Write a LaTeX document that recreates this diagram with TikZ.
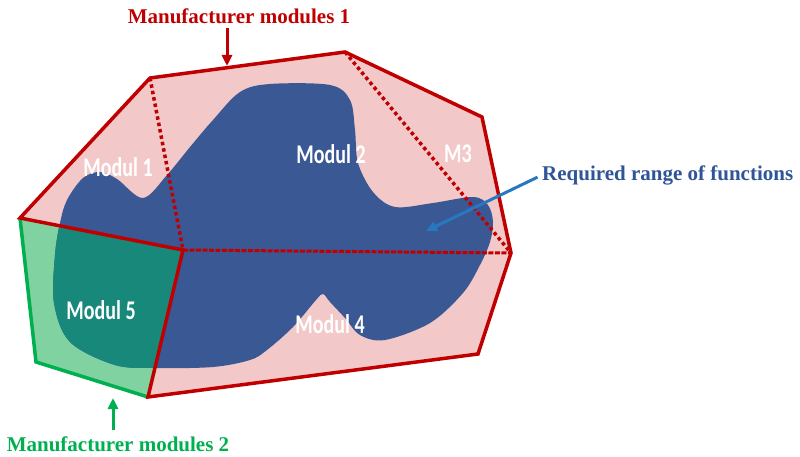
\documentclass[tikz,border=0pt]{standalone}
\usepackage{fontspec}
\setmainfont{Liberation Serif}
\newfontfamily\modfont[FakeStretch=0.74]{Carlito}
\usetikzlibrary{arrows.meta,arrows}
\usetikzlibrary{positioning}
\definecolor{mred}{HTML}{C00000}
\definecolor{mgreen}{HTML}{00B050}
\definecolor{mblue}{HTML}{2F5597}
\definecolor{rangeblue}{HTML}{3A5894}
\definecolor{arrowblue}{HTML}{2878C0}
\definecolor{pinkfill}{HTML}{F2C8C8}
\definecolor{greenfill}{HTML}{80D2A0}
\definecolor{tealfill}{HTML}{17887A}
\tikzset{
  title/.style={font=\bfseries\fontsize{21}{23}\selectfont, inner sep=0pt},
  modul/.style={text=white, font=\modfont\bfseries\fontsize{27}{29}\selectfont, inner sep=0pt},
  border/.style={draw=mred, line width=3.5pt, line join=miter},
  greenborder/.style={draw=mgreen, line width=3.5pt, line join=miter},
  dotline/.style={draw=mred, line width=3.5pt, dash pattern=on 3.5pt off 3pt},
  dashline/.style={draw=mred, line width=3pt, dash pattern=on 5pt off 1.5pt},
  arrow/.style={draw, -{Triangle[length=11pt, width=10pt]}, line width=3pt}
  }

\begin{document}
\begin{tikzpicture}[x=1pt, y=-1pt]
	% Frame
	\useasboundingbox (0,0) rectangle (800,457);

	% Corners
	\coordinate (h) at (20,218);
	\coordinate (a) at (150,78);
	\coordinate (b) at (345,52);
	\coordinate (c) at (482,117);
	\coordinate (d) at (511,253);
	\coordinate (e) at (478,354);
	\coordinate (f) at (148,397);
	\coordinate (g) at (36,362);
	\coordinate (i) at (183,250);

	% Areas
	\fill[pinkfill] (h) -- (a) -- (b) -- (c) -- (d) -- (e) -- (f) -- (i) -- cycle;
	\fill[greenfill] (h) -- (i) -- (f) -- (g) -- cycle;
	\def\rangeblob{plot[smooth cycle, tension=0.55] coordinates {
		(60,223) (67,200) (83,178) (100,172) (117,179) (143,198) (167,175)
		(190,147) (213,120) (240,92) (270,84) (330,85) (350,100) (355,130)
		(358,163) (373,192) (395,207) (433,203) (473,197) (488,205) (493,222)
		(490,242) (480,265) (463,293) (430,323) (385,340) (360,335) (345,318)
		(330,302) (323,294) (316,300) (293,327) (267,350) (250,360) (213,367)
		(157,368) (115,365) (70,342) (54,303) (55,255)}}
	\fill[rangeblue] \rangeblob;
	\begin{scope}
		\clip (h) -- (i) -- (f) -- (g) -- cycle;
		\fill[tealfill] \rangeblob;
	\end{scope}

	% Lines
	\draw[dotline] (a) -- (i);
	\draw[dotline] (b) -- (d);
	\draw[dashline] (i) -- (d);
	\draw[greenborder] (h) -- (g) -- (f);
	\draw[border] (f) -- (i) -- (h) -- (a) -- (b) -- (c) -- (d) -- (e) -- (f) -- cycle;

	% Nodes
	\node[modul] (m1) at (118,167) {Modul 1};
	\node[modul] (m2) at (331,154) {Modul 2};
	\node[modul] (m3) at (458,154) {M3};
	\node[modul] (m4) at (330,324) {Modul 4};
	\node[modul] (m5) at (101,310) {Modul 5};
	\node[title, text=mred] (mm1) at (239,16) {Manufacturer modules 1};
	\node[title, text=mgreen] (mm2) at (118,444) {Manufacturer modules 2};
	\node[title, text=mblue, anchor=west] (req) at (542,175) {Required range of functions};

	% Arrow
	\coordinate (top1) at (227,66);
	\coordinate (bot2) at (113,398);
	\coordinate (inner) at (426,231);
	\draw[arrow, mred, shorten <=4pt] (top1 |- mm1.south) -- (top1);
	\draw[arrow, mgreen, shorten <=6pt] (bot2 |- mm2.north) -- (bot2);
	\draw[arrow, arrowblue, shorten <=5pt] (req.west) -- (inner);

\end{tikzpicture}
\end{document}
